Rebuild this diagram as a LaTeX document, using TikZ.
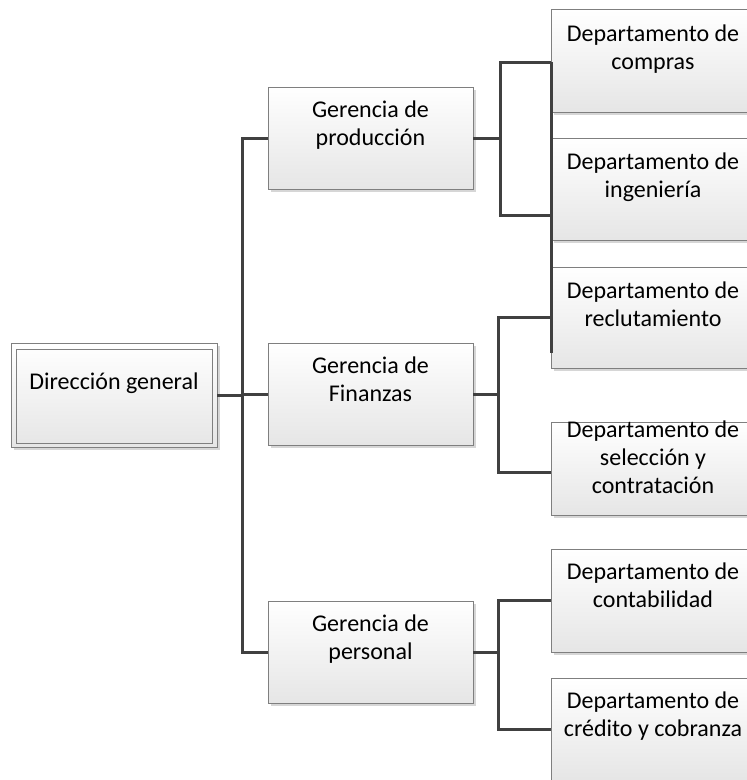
\documentclass[tikz,border=0pt]{standalone}
\usepackage{fontspec}
\setmainfont{Carlito}
\usetikzlibrary{shadows,calc}
\definecolor{linec}{HTML}{404040}
\definecolor{edgec}{HTML}{7F7F7F}
\tikzset{
  box/.style={draw=edgec, line width=0.9pt, top color=white, bottom color=black!10,
    general shadow={fill=black!16, shadow xshift=3pt, shadow yshift=-3pt},
    inner sep=0pt, outer sep=0pt, minimum width=205pt, minimum height=102pt},
  dbox/.style={box, minimum width=206pt},
  innerbox/.style={draw=edgec, line width=0.9pt, inner sep=0pt, outer sep=0pt,
    minimum width=196pt, minimum height=94pt},
  txt/.style={anchor=base, align=center, inner sep=0pt, font=\fontsize{24}{28}\selectfont, text=black},
  conn/.style={draw=linec, line width=3pt}
}
\begin{document}
\begin{tikzpicture}[x=1pt,y=-1pt]
\clip (0,0) rectangle (747,780);
\fill[white] (0,0) rectangle (747,780);
% boxes
\node[box, minimum width=206pt, minimum height=104pt] (dg) at (114,395) {};
\node[innerbox] (dgi) at (114,396) {};
\node[box] (gp) at (370.5,138) {};
\node[box] (gf) at (370.5,394) {};
\node[box] (gpe) at (370.5,652) {};
\node[dbox, minimum height=103pt] (dc) at (654,60.5) {};
\node[dbox] (di) at (654,189) {};
\node[dbox, minimum height=101pt] (dr) at (654,317.5) {};
\node[dbox, minimum height=93pt] (ds) at (654,468.5) {};
\node[dbox, minimum height=103pt] (dco) at (654,600.5) {};
\node[dbox, minimum height=103pt] (dcr) at (654,729.5) {};
% texts (anchor base = baseline of the last line)
\node[txt] (tdg) at (114,389) {Dirección general};
\node[txt] (tgp) at (370.5,145) {Gerencia de\\producción};
\node[txt] (tgf) at (370.5,401) {Gerencia de\\Finanzas};
\node[txt] (tgpe) at (370.5,659) {Gerencia de\\personal};
\node[txt] (tdc) at (653,69) {Departamento de\\compras};
\node[txt] (tdi) at (653,197) {Departamento de\\ingeniería};
\node[txt] (tdr) at (653,326) {Departamento de\\reclutamiento};
\node[txt] (tds) at (653,493) {Departamento de\\selección y\\contratación};
\node[txt] (tdco) at (653,607) {Departamento de\\contabilidad};
\node[txt] (tdcr) at (653,736) {Departamento de\\crédito y cobranza};
% junction coordinates
\coordinate (t1) at (242,0);
\coordinate (b1) at (500,0);
\coordinate (b2) at (498,0);
\coordinate (p1) at (500,62);
\coordinate (p2) at (551,62);
\coordinate (p3) at (500,215);
\coordinate (p4) at (551,215);
\coordinate (p5) at (551,353);
\coordinate (s1) at (551,472);
% connectors
\draw[conn] (dg.east) -- (dg.east -| t1);
\draw[conn] (gp.west) -- (gp.west -| t1) -- (gpe.west -| t1) -- (gpe.west);
\draw[conn] (gf.west) -- (gf.west -| t1);
\draw[conn] (gp.east) -- (gp.east -| b1);
\draw[conn] (p2) -- (p1) -- (p3) -- (p4);
\draw[conn] (p2) -- (p5);
\draw[conn] (gf.east) -- (gf.east -| b2);
\draw[conn] (dr.west) -- (dr.west -| b2) -- (s1 -| b2) -- (s1);
\draw[conn] (gpe.east) -- (gpe.east -| b2);
\draw[conn] (dco.west) -- (dco.west -| b2) -- (dcr.west -| b2) -- (dcr.west);
\end{tikzpicture}
\end{document}
